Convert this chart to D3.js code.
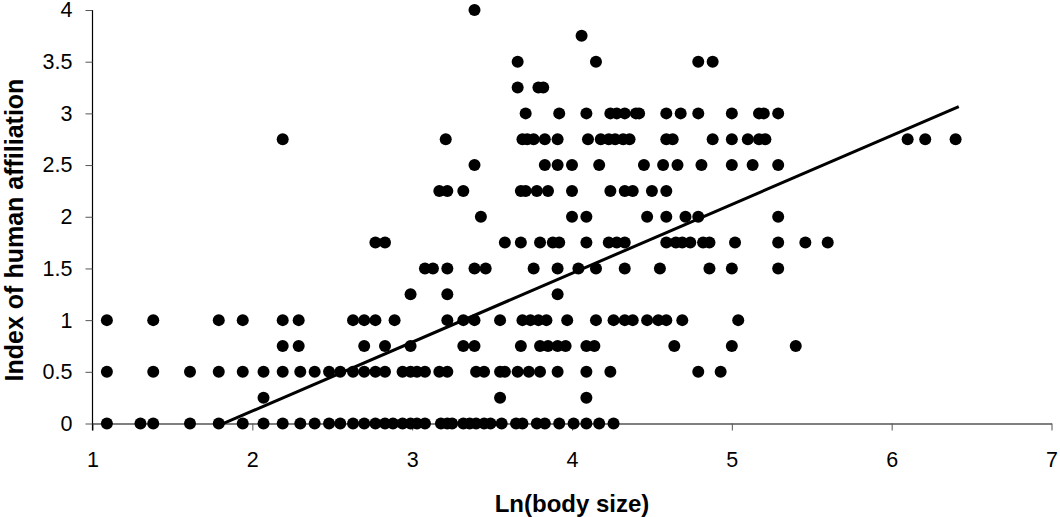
<!DOCTYPE html>
<html>
<head>
<meta charset="utf-8">
<script src="https://cdn.jsdelivr.net/npm/d3@7"></script>
<style>
  html, body { margin: 0; padding: 0; background: #fff; }
  svg { display: block; font-family: "Liberation Sans", Arial, sans-serif; }
</style>
</head>
<body>
<svg id="chart" width="1060" height="517"></svg>
<script>
// ---- data ----
const xTicks = [1, 2, 3, 4, 5, 6, 7];
const yTicks = [0, 0.5, 1, 1.5, 2, 2.5, 3, 3.5, 4];
const xTitle = "Ln(body size)";
const yTitle = "Index of human affiliation";

// affiliation levels and the body-size values of the points at each level
const levels = [4, 3.75, 3.5, 3.25, 3, 2.75, 2.5, 2.25, 2, 1.75, 1.5, 1.25, 1, 0.75, 0.5, 0.25, 0];
const row400 = [3.39];
const row375 = [4.06];
const row350 = [3.66, 4.15, 4.79, 4.88];
const row325 = [3.66, 3.79, 3.82];
const row300 = [3.71, 3.92, 4.09, 4.24, 4.28, 4.33, 4.40, 4.42, 4.59, 4.68, 4.79, 5.00, 5.17, 5.20, 5.29];
const row275 = [2.19, 3.21, 3.69, 3.72, 3.76, 3.83, 3.91, 4.10, 4.18, 4.23, 4.27, 4.32, 4.36, 4.59, 4.63, 4.88, 5.00, 5.10, 5.17, 5.21, 6.10, 6.21, 6.40];
const row250 = [3.39, 3.83, 3.91, 4.00, 4.17, 4.45, 4.57, 4.66, 4.81, 5.00, 5.13, 5.29];
const row225 = [3.17, 3.22, 3.32, 3.68, 3.71, 3.78, 3.85, 4.00, 4.24, 4.33, 4.38, 4.50, 4.59];
const row200 = [3.43, 4.00, 4.09, 4.47, 4.59, 4.71, 4.79, 5.29];
const row175 = [2.77, 2.83, 3.58, 3.68, 3.80, 3.88, 3.92, 4.09, 4.23, 4.28, 4.33, 4.59, 4.65, 4.69, 4.74, 4.82, 4.86, 5.02, 5.29, 5.46, 5.60];
const row150 = [3.08, 3.13, 3.22, 3.39, 3.46, 3.76, 3.91, 4.04, 4.15, 4.33, 4.55, 4.86, 5.00, 5.29];
const row125 = [2.99, 3.22, 3.91];
const row100 = [1.09, 1.38, 1.79, 1.94, 2.19, 2.29, 2.63, 2.70, 2.77, 2.89, 3.22, 3.32, 3.39, 3.55, 3.69, 3.74, 3.79, 3.84, 3.97, 4.15, 4.26, 4.33, 4.38, 4.47, 4.54, 4.59, 4.69, 5.04];
const row075 = [2.19, 2.29, 2.70, 2.83, 2.99, 3.32, 3.39, 3.68, 3.80, 3.85, 3.91, 3.96, 4.09, 4.14, 4.64, 5.00, 5.40];
const row050 = [1.09, 1.38, 1.61, 1.79, 1.94, 2.07, 2.19, 2.30, 2.39, 2.48, 2.55, 2.63, 2.70, 2.77, 2.83, 2.94, 2.99, 3.03, 3.08, 3.17, 3.22, 3.40, 3.45, 3.55, 3.58, 3.66, 3.73, 3.80, 3.91, 4.09, 4.24, 4.79, 4.93];
const row025 = [2.07, 3.55, 4.09];
const row000 = [1.09, 1.30, 1.38, 1.61, 1.79, 1.94, 2.07, 2.19, 2.30, 2.39, 2.48, 2.55, 2.63, 2.70, 2.77, 2.83, 2.88, 2.94, 2.99, 3.03, 3.08, 3.18, 3.22, 3.25, 3.32, 3.36, 3.40, 3.45, 3.49, 3.56, 3.65, 3.69, 3.78, 3.83, 3.92, 4.01, 4.09, 4.17, 4.26];
const rows = [row400, row375, row350, row325, row300, row275, row250, row225, row200, row175, row150, row125, row100, row075, row050, row025, row000];

// linear trend line
const trendSlope = 0.666;
const trendIntercept = -1.211;
const trendRange = [1.82, 6.42];

// ---- build points ----
const points = [];
levels.forEach((lv, i) => rows[i].forEach(x => points.push({ x: x, y: lv })));

// ---- drawing ----
const svg = d3.select("#chart");
const x = d3.scaleLinear().domain([1, 7]).range([92.5, 1051.5]);
const y = d3.scaleLinear().domain([0, 4]).range([423.5, 10]);

// axes
const xAxis = d3.axisBottom(x).tickValues(xTicks).tickFormat(d => String(d)).tickSizeInner(7).tickSizeOuter(0).tickPadding(21);
const yAxis = d3.axisLeft(y).tickValues(yTicks).tickFormat(d => String(d)).tickSizeInner(7).tickSizeOuter(0).tickPadding(13);

const gx = svg.append("g").attr("transform", `translate(0,${y(0)})`).call(xAxis);
const gy = svg.append("g").attr("transform", `translate(${x(1)},0)`).call(yAxis);

[gx, gy].forEach(g => {
  g.select(".domain").attr("stroke", "#000").attr("stroke-width", 1.2);
  g.selectAll(".tick line").attr("stroke", "#555").attr("stroke-width", 1);
  g.selectAll(".tick text")
    .attr("fill", "#000")
    .style("font-size", "21.5px")
    .style("font-family", "'Liberation Sans', Arial, sans-serif");
});
// extend y axis line slightly below the x axis as in reference
gy.select(".domain").attr("d", `M0,${y(4)}V${y(0) + 7}`);

// points
svg.append("g")
  .selectAll("circle")
  .data(points)
  .join("circle")
  .attr("cx", d => x(d.x))
  .attr("cy", d => y(d.y))
  .attr("r", 6)
  .attr("fill", "#000");

// trend line
const trend = trendRange.map(v => ({ x: v, y: trendSlope * v + trendIntercept }));
svg.append("path")
  .datum(trend)
  .attr("d", d3.line().x(d => x(d.x)).y(d => y(d.y)))
  .attr("stroke", "#000")
  .attr("stroke-width", 3)
  .attr("fill", "none");

// titles
svg.append("text")
  .attr("x", 572)
  .attr("y", 512)
  .attr("text-anchor", "middle")
  .style("font-size", "24px")
  .style("font-weight", "bold")
  .text(xTitle);

svg.append("text")
  .attr("transform", "translate(23,230) rotate(-90)")
  .attr("text-anchor", "middle")
  .style("font-size", "25px")
  .style("font-weight", "bold")
  .text(yTitle);
</script>
</body>
</html>
